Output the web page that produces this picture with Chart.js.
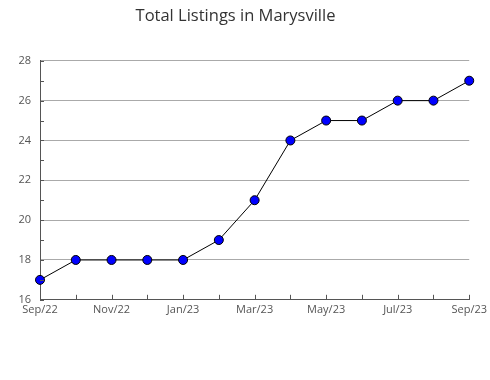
<!DOCTYPE html>
<html>
<head>
<meta charset="utf-8">
<script src="https://cdn.jsdelivr.net/npm/chart.js@4"></script>
<style>
  html, body { margin: 0; padding: 0; background: #fff; }
  #wrap { width: 490px; height: 380px; }
</style>
</head>
<body>
<div id="wrap"><canvas id="myChart" width="490" height="380"></canvas></div>
<script>
const months = ['Sep/22', 'Oct/22', 'Nov/22', 'Dec/22', 'Jan/23', 'Feb/23', 'Mar/23',
                'Apr/23', 'May/23', 'Jun/23', 'Jul/23', 'Aug/23', 'Sep/23'];
const listings = [17, 18, 18, 18, 18, 19, 21, 24, 25, 25, 26, 26, 27];
const yMin = 16;
const yMax = 28;

// small tick marks drawn inside the plot area, like the original
const innerTicks = {
  id: 'innerTicks',
  afterDraw(chart) {
    const { ctx, chartArea, scales } = chart;
    ctx.save();
    ctx.strokeStyle = '#555';
    ctx.lineWidth = 1;
    ctx.beginPath();
    for (let v = yMin; v <= yMax; v++) {
      const y = Math.round(scales.y.getPixelForValue(v)) + 0.5;
      ctx.moveTo(chartArea.left, y);
      ctx.lineTo(chartArea.left + 4, y);
    }
    for (let i = 0; i < months.length; i++) {
      const x = Math.round(scales.x.getPixelForValue(i)) + 0.5;
      ctx.moveTo(x, chartArea.bottom);
      ctx.lineTo(x, chartArea.bottom - 5);
    }
    ctx.stroke();
    ctx.restore();
  }
};

const ctx = document.getElementById('myChart');

const config = {
  type: 'line',
  data: {
    labels: months,
    datasets: [{
      data: listings,
      borderColor: '#000',
      borderWidth: 1,
      backgroundColor: '#0000ff',
      pointBackgroundColor: '#0000ff',
      pointBorderColor: '#000',
      pointBorderWidth: 1,
      pointRadius: 4.5,
      tension: 0,
      fill: false,
      clip: false
    }]
  },
  options: {
    responsive: false,
    animation: false,
    layout: { padding: { left: 0, right: 19, top: 0, bottom: 61 } },
    plugins: {
      legend: { display: false },
      tooltip: { enabled: false },
      title: {
        display: true,
        text: 'Total Listings in Marysville',
        color: '#333',
        font: { family: 'Open Sans', size: 16.5, weight: 'normal' },
        padding: { top: 6, bottom: 35 }
      }
    },
    scales: {
      x: {
        offset: false,
        grid: { display: false, drawTicks: false },
        border: { color: '#555', width: 1 },
        ticks: {
          autoSkip: false,
          maxRotation: 0,
          padding: 3,
          color: '#555',
          font: { family: 'Open Sans', size: 11 },
          callback: (val, i) => (i % 2 === 0 ? months[i] : '')
        }
      },
      y: {
        min: yMin,
        max: yMax,
        afterFit(scale) { scale.width = 40; },
        grid: { color: '#aaa', drawTicks: false },
        border: { color: '#555', width: 1 },
        ticks: {
          stepSize: 2,
          padding: 9,
          color: '#555',
          font: { family: 'Open Sans', size: 11 }
        }
      }
    }
  },
  plugins: [innerTicks]
};

new Chart(ctx, config);
</script>
</body>
</html>
